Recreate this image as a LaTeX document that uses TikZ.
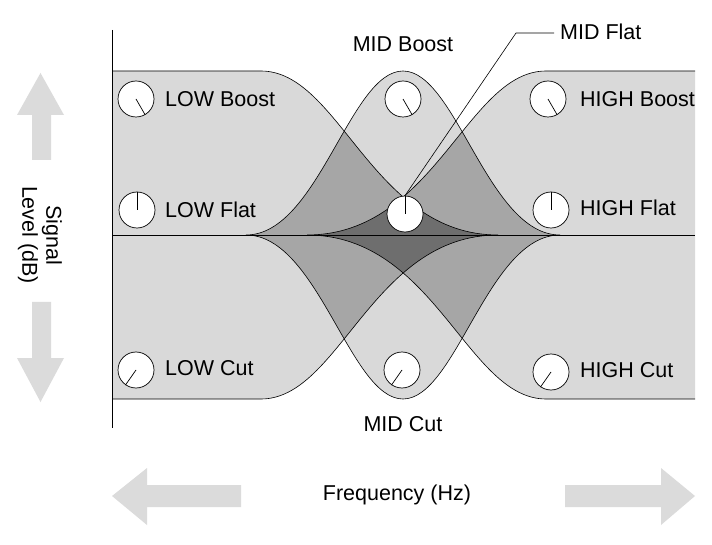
\documentclass[tikz,border=0pt]{standalone}
\usepackage{fontspec}
\setmainfont{Liberation Sans}
\begin{document}
\begin{tikzpicture}[x=1pt,y=-1pt,
  lbl/.style={font=\fontsize{21.5}{24}\selectfont, inner sep=0pt},
  knob/.style={circle, draw=black, fill=white, line width=0.7pt, minimum size=36pt, inner sep=0pt},
  barrow/.style={fill=black!14, draw=none},
  edge/.style={draw=black, line width=0.6pt}]
\useasboundingbox (0,0) rectangle (712,545);
\definecolor{lg}{gray}{0.85}
\definecolor{mg}{gray}{0.65}
\definecolor{dg}{gray}{0.43}
\def\lowp{(112,71) -- (261,71) .. controls (340,71) and (372,235) .. (498,235) .. controls (372,235) and (340,399) .. (261,399) -- (112,399) -- cycle}
\def\highp{(695,71) -- (546,71) .. controls (467,71) and (435,235) .. (307,235) .. controls (435,235) and (467,399) .. (546,399) -- (695,399) -- cycle}
\def\midp{(246,235) .. controls (318,235) and (350,71) .. (403,71) .. controls (456,71) and (488,235) .. (560,235) .. controls (488,235) and (456,399) .. (403,399) .. controls (350,399) and (318,235) .. (246,235) -- cycle}
% base fills
\fill[lg] \lowp; \fill[lg] \highp; \fill[lg] \midp;
\begin{scope}\clip \midp; \fill[mg] \lowp; \fill[mg] \highp; \end{scope}
\begin{scope}\clip \lowp; \fill[dg] \highp; \end{scope}
% outlines
\draw[edge] (112,71) -- (261,71) .. controls (340,71) and (372,235) .. (498,235) .. controls (372,235) and (340,399) .. (261,399) -- (112,399);
\draw[edge] (695,71) -- (546,71) .. controls (467,71) and (435,235) .. (307,235) .. controls (435,235) and (467,399) .. (546,399) -- (695,399);
\draw[edge] \midp;
% axes
\coordinate (ya) at (112,30); \coordinate (yb) at (112,428);
\coordinate (xa) at (112,235); \coordinate (xb) at (695,235);
\draw[line width=0.6pt] (ya) -- (yb);
\draw[line width=0.6pt] (xa) -- (xb);
% knobs
\foreach \n/\x/\y/\a in {lb/136/99/-60, lf/137/210/90, lc/136/370/-125, mb/403/99/-60, mf/405/214/90, mc/402/370/-125, hb/548/99/-60, hf/551/210/90, hc/551/372/-125}{
  \node[knob] (\n) at (\x,\y) {};
  \draw[line width=0.7pt] (\n.center) -- (\n.\a);
}
% labels
\node[lbl, anchor=west] (tlb) at (165,99) {LOW Boost};
\node[lbl, anchor=west] (tlf) at (165,210) {LOW Flat};
\node[lbl, anchor=west] (tlc) at (165,368) {LOW Cut};
\node[lbl, anchor=west] (thb) at (580,99) {HIGH Boost};
\node[lbl, anchor=west] (thf) at (580,208) {HIGH Flat};
\node[lbl, anchor=west] (thc) at (580,370) {HIGH Cut};
\node[lbl] (tmb) at (403,44) {MID Boost};
\node[lbl] (tmc) at (403,424) {MID Cut};
\node[lbl, anchor=west] (tmf) at (560,32) {MID Flat};
\coordinate (bend) at (516,33);
\draw[line width=0.6pt] (tmf.west) ++(-6,1) -- (bend) -- (mf.north);
% vertical arrows
\fill[barrow] (40.5,73) -- (64,115) -- (51,115) -- (51,160) -- (32,160) -- (32,115) -- (17,115) -- cycle;
\fill[barrow] (40.5,402) -- (64,358) -- (51,358) -- (51,302) -- (32,302) -- (32,358) -- (17,358) -- cycle;
\node[lbl, rotate=-90, align=center] (ylab) at (40,235) {Signal\\Level (dB)};
% horizontal arrows
\fill[barrow] (112,496) -- (147,468) -- (147,485) -- (241,485) -- (241,507) -- (147,507) -- (147,525) -- cycle;
\fill[barrow] (695,496) -- (661,468) -- (661,485) -- (565,485) -- (565,507) -- (661,507) -- (661,525) -- cycle;
\node[lbl] (xlab) at (397,495) {Frequency (Hz)};
\end{tikzpicture}
\end{document}
